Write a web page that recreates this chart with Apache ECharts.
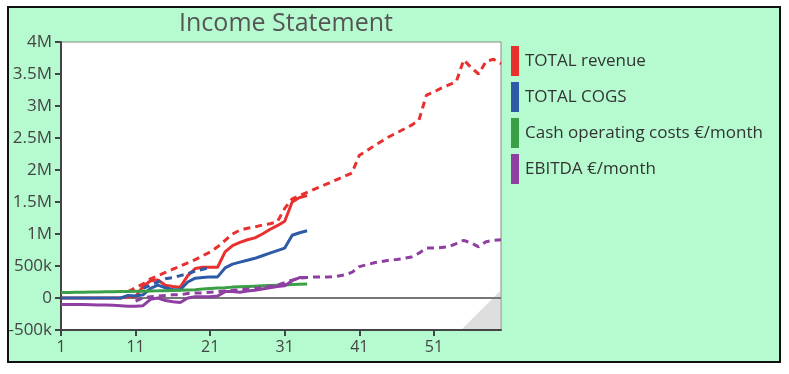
<!DOCTYPE html>
<html>
<head>
<meta charset="utf-8">
<script src="https://cdn.jsdelivr.net/npm/echarts@6/dist/echarts.min.js"></script>
<style>html,body{margin:0;padding:0;background:#fff}#c{width:789px;height:374px}</style>
</head>
<body>
<div id="c"></div>
<script>
// Months on the x axis
const months = Array.from({length: 60}, (_, i) => String(i + 1));
const yTicks = [-500000, 0, 500000, 1000000, 1500000, 2000000, 2500000, 3000000, 3500000, 4000000];

// Actuals (values in millions of €), starting at month 1
const revenueActual = [0,0,0,0,0,0,0,0,0,0.02,0.02,0.18,0.27,0.28,0.2,0.18,0.17,0.35,0.46,0.48,0.48,0.48,0.72,0.82,0.87,0.91,0.94,1.0,1.07,1.13,1.2,1.5,1.57,1.6];
const cogsActual = [0,0,0,0,0,0,0,0,0,0.04,0.03,0.05,0.15,0.2,0.16,0.13,0.13,0.25,0.31,0.32,0.33,0.33,0.47,0.53,0.56,0.59,0.62,0.66,0.7,0.74,0.78,0.98,1.02,1.05];
const opexActual = [0.085,0.087,0.089,0.09,0.092,0.094,0.096,0.098,0.1,0.102,0.104,0.106,0.11,0.112,0.115,0.118,0.12,0.125,0.13,0.14,0.15,0.155,0.16,0.17,0.175,0.18,0.185,0.19,0.195,0.2,0.205,0.21,0.215,0.22];
const ebitdaActual = [-0.1,-0.1,-0.1,-0.1,-0.105,-0.11,-0.11,-0.115,-0.12,-0.13,-0.13,-0.12,-0.02,0.0,-0.04,-0.06,-0.07,0.0,0.02,0.02,0.02,0.03,0.1,0.1,0.09,0.11,0.12,0.14,0.16,0.18,0.19,0.27,0.32,0.32];

// Forecasts (values in millions of €)
const revenueForecastStart = 10;
const revenueForecast = [0.1,0.16,0.22,0.3,0.35,0.4,0.45,0.5,0.55,0.6,0.66,0.72,0.8,0.9,1.0,1.06,1.09,1.11,1.14,1.16,1.19,1.4,1.55,1.6,1.65,1.7,1.75,1.8,1.85,1.9,1.95,2.23,2.3,2.38,2.45,2.52,2.58,2.64,2.7,2.78,3.17,3.22,3.28,3.33,3.38,3.72,3.6,3.5,3.7,3.73,3.66];
const cogsForecastStart = 12;
const cogsForecast = [0.15,0.2,0.25,0.3,0.32,0.35,0.38,0.42,0.45,0.48];
const ebitdaForecastStart = 11;
const ebitdaForecast = [-0.05,0.0,0.02,0.03,0.04,0.05,0.05,0.07,0.08,0.08,0.09,0.1,0.11,0.12,0.13,0.14,0.15,0.16,0.18,0.2,0.24,0.28,0.31,0.32,0.33,0.33,0.33,0.34,0.36,0.4,0.49,0.52,0.55,0.57,0.59,0.6,0.62,0.64,0.7,0.78,0.78,0.79,0.8,0.85,0.9,0.86,0.8,0.88,0.9,0.91];

const names = ['TOTAL revenue', 'TOTAL COGS', 'Cash operating costs €/month', 'EBITDA €/month'];
const colors = ['#e8302f', '#2e5aa6', '#3a9f47', '#8f3fa1'];

function pad(start, vals) {
  const out = new Array(months.length).fill(null);
  vals.forEach((v, i) => { out[start - 1 + i] = Math.round(v * 1e6); });
  return out;
}

function fmt(v) {
  if (v === 0) return '0';
  const a = Math.abs(v);
  if (a >= 1e6) return (v / 1e6) + 'M';
  return (v / 1e3) + 'k';
}

const FONT = '"Open Sans", sans-serif';
const solid = (name, color, data, extra) => Object.assign({
  name, type: 'line', data, symbol: 'none', color,
  lineStyle: {color, width: 3}, connectNulls: false, z: 3
}, extra || {});
const dashed = (name, color, data) => ({
  name, type: 'line', data, symbol: 'none', color,
  lineStyle: {color, width: 3, type: [7, 5]}, z: 3
});

const chart = echarts.init(document.getElementById('c'), null, {renderer: 'canvas'});
chart.setOption({
  backgroundColor: '#ffffff',
  animation: false,
  graphic: [
    {type: 'rect', z: -100, shape: {x: 8, y: 7, width: 772, height: 355},
     style: {fill: '#b6fbd0', stroke: '#111', lineWidth: 2}},
    {type: 'polygon', z: 1, shape: {points: [[500, 291], [500, 329], [462, 329]]},
     style: {fill: '#dedede'}}
  ],
  title: {
    text: 'Income Statement', left: 281, top: 6, textAlign: 'center',
    textStyle: {fontFamily: FONT, fontSize: 25, fontWeight: 'normal', color: '#555'}
  },
  legend: {
    orient: 'vertical', left: 506, top: 41, itemWidth: 8, itemHeight: 30, itemGap: 6,
    icon: 'rect', data: names, selectedMode: false,
    itemStyle: {borderWidth: 0},
    textStyle: {fontFamily: FONT, fontSize: 17, color: '#333', padding: [0, 0, 0, 1]}
  },
  grid: {
    left: 61, top: 42, right: 288, bottom: 44, show: true,
    backgroundColor: '#fff', borderColor: '#888', borderWidth: 1
  },
  xAxis: {
    type: 'category', data: months, boundaryGap: false,
    axisLine: {onZero: false, lineStyle: {color: '#444', width: 2}},
    axisTick: {show: true, length: 6, interval: 9, lineStyle: {color: '#444', width: 2}},
    axisLabel: {interval: 9, fontFamily: FONT, fontSize: 16, color: '#444', margin: 9},
    splitLine: {show: false}
  },
  yAxis: {
    type: 'value', min: yTicks[0], max: yTicks[yTicks.length - 1], interval: 500000,
    axisLine: {show: true, lineStyle: {color: '#444', width: 2}},
    axisTick: {show: true, length: 6, lineStyle: {color: '#444', width: 2}},
    axisLabel: {fontFamily: FONT, fontSize: 17, color: '#444', margin: 9, formatter: fmt},
    splitLine: {show: false}
  },
  series: [
    solid(names[0], colors[0], pad(1, revenueActual), {
      markLine: {silent: true, symbol: 'none', label: {show: false},
        lineStyle: {color: '#777', width: 2, type: 'solid'}, data: [{yAxis: 0}], z: 2}
    }),
    dashed(names[0], colors[0], pad(revenueForecastStart, revenueForecast)),
    dashed(names[1], colors[1], pad(cogsForecastStart, cogsForecast)),
    solid(names[1], colors[1], pad(1, cogsActual)),
    solid(names[2], colors[2], pad(1, opexActual)),
    dashed(names[3], colors[3], pad(ebitdaForecastStart, ebitdaForecast)),
    solid(names[3], colors[3], pad(1, ebitdaActual))
  ]
});
</script>
</body>
</html>
